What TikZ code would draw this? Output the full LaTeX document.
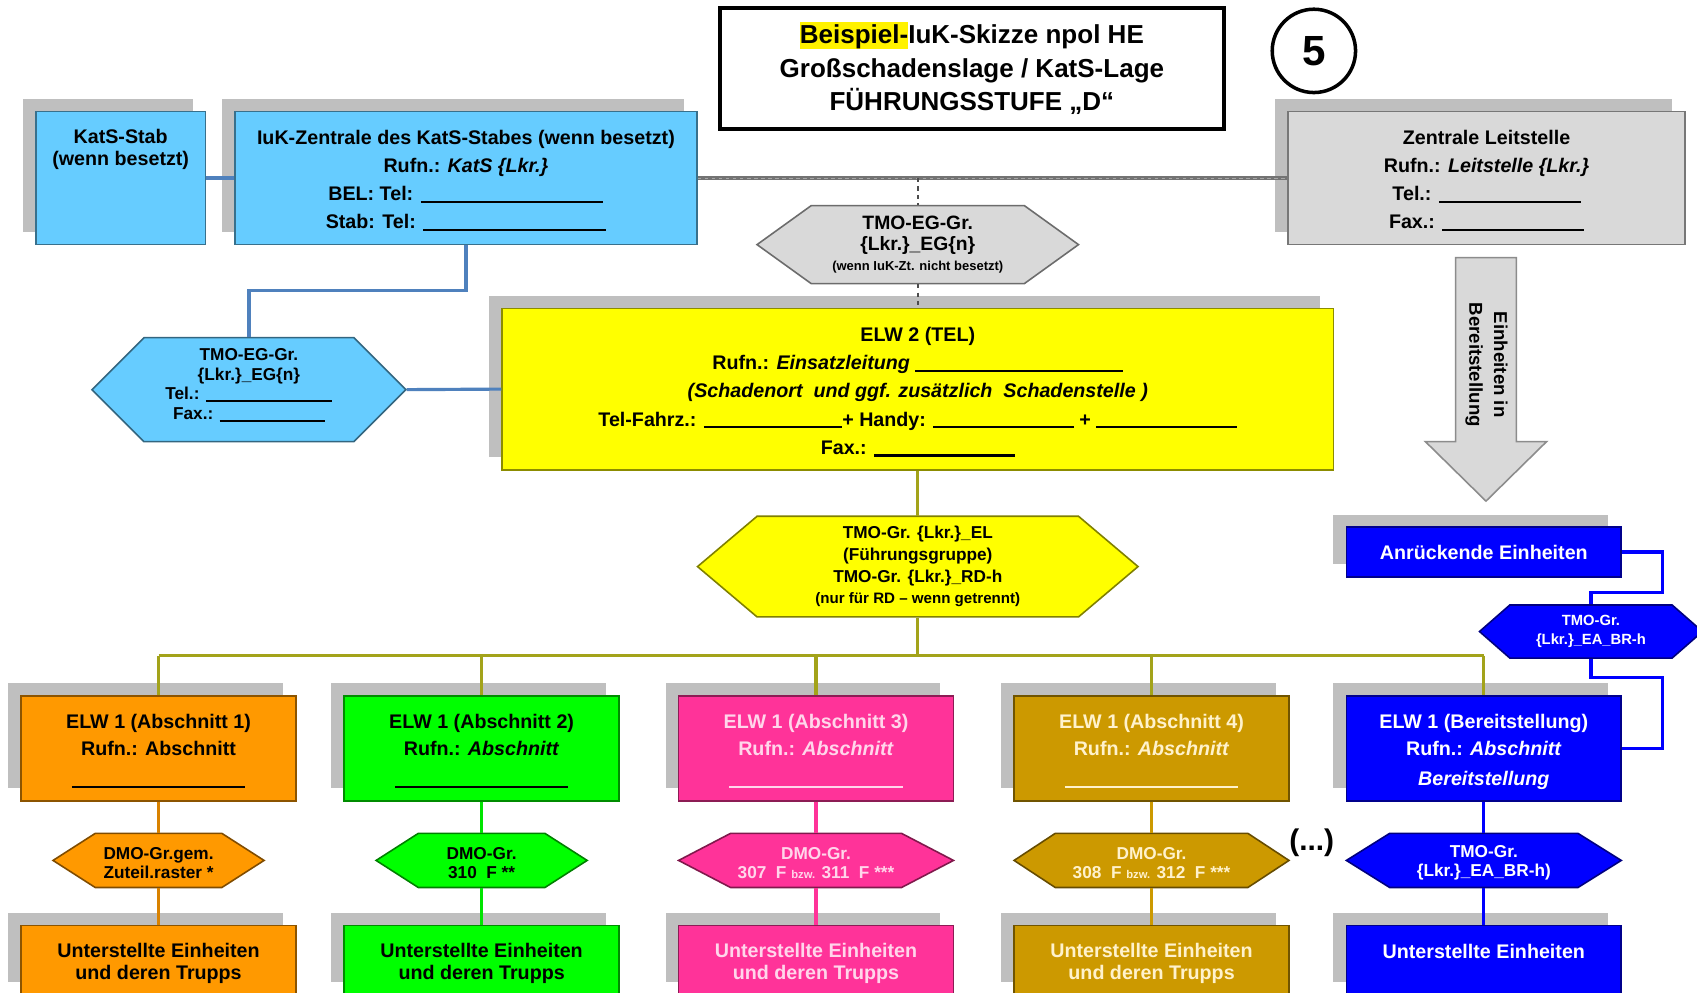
\documentclass[tikz,border=0pt]{standalone}
\usepackage{fontspec}
\setmainfont{Liberation Sans}
\usetikzlibrary{calc}

% drawing unit: one grid step
\newlength\px
\setlength\px{0.3079pt}
% blank line to be filled in by hand
\newcommand\blank[2][-0.7pt]{\rule[#1]{#2\px}{0.6pt}}
% invisible strut that sets the height of a first line
\newcommand\tstrut[1]{\rule{0pt}{#1}}

\definecolor{shadowgray}{HTML}{BFBFBF}
\definecolor{boxgray}{HTML}{D9D9D9}
\definecolor{katsblue}{HTML}{66CCFF}
\definecolor{linkblue}{HTML}{4F81BD}
\definecolor{elwyellow}{HTML}{FFFF00}
\definecolor{busolive}{HTML}{A3A31A}
\definecolor{abs1}{HTML}{FF9900}
\definecolor{abs2}{HTML}{00FF00}
\definecolor{abs3}{HTML}{FF3399}
\definecolor{abs4}{HTML}{CC9900}
\definecolor{abs5}{HTML}{0000FF}
\definecolor{txt3}{HTML}{FFD6EB}
\definecolor{txt4}{HTML}{FFF2CC}

\tikzset{
  wh/.style 2 args={minimum width=#1*0.3079pt, minimum height=#2*0.3079pt},
  sbox/.style={rectangle, fill=#1, draw=#1!55!black, line width=0.45pt,
    inner sep=0pt, align=center,
    preaction={fill=shadowgray, draw=none,
      transform canvas={xshift=-3.7pt, yshift=3.55pt}}},
  hexfill/.style={fill=#1, draw=#1!50!black, line width=0.45pt},
  hexlabel/.style={rectangle, inner sep=0pt, align=center},
  ftitle/.style={font=\bfseries\fontsize{7.4pt}{9.5pt}\selectfont},
  fbig/.style={font=\bfseries\fontsize{5.6pt}{8pt}\selectfont},
  fabs/.style={font=\bfseries\fontsize{5.6pt}{7.7pt}\selectfont},
  funit/.style={font=\bfseries\fontsize{5.6pt}{6.2pt}\selectfont},
  fhexa/.style={font=\bfseries\fontsize{4.9pt}{5.55pt}\selectfont},
  fhexg/.style={font=\bfseries\fontsize{5.5pt}{5.8pt}\selectfont},
  fhexy/.style={font=\bfseries\fontsize{4.9pt}{6.2pt}\selectfont},
  fhexd/.style={font=\bfseries\fontsize{4.9pt}{5.5pt}\selectfont},
  fhexs/.style={font=\bfseries\fontsize{4.2pt}{5.5pt}\selectfont},
  lblue/.style={draw=linkblue, line width=0.9pt},
  bline/.style={draw=abs5, line width=0.9pt},
  gline/.style={draw=black!55, line width=1.1pt},
  gdash/.style={draw=black!35, line width=0.3pt, dash pattern=on 1pt off 1pt},
  dline/.style={draw=black!70, line width=0.65pt, dash pattern=on 1.2pt off 1.2pt},
  oline/.style={draw=busolive, line width=0.9pt},
  cline/.style={draw=#1, line width=0.9pt},
}

% hexagon with pointed ends: name, x, y, width, height, slant, colour, node options, text
\newcommand\hexnode[9]{%
  \filldraw[hexfill=#7] (#2-#4/2,#3) -- (#2-#4/2+#6,#3-#5/2) -- (#2+#4/2-#6,#3-#5/2)
    -- (#2+#4/2,#3) -- (#2+#4/2-#6,#3+#5/2) -- (#2-#4/2+#6,#3+#5/2) -- cycle;
  \node[hexlabel, wh={#4}{#5}, #8] (#1) at (#2,#3) {#9};%
}

\begin{document}
\begin{tikzpicture}[x=0.3079pt, y=-0.3079pt]
\useasboundingbox (0,0) rectangle (1568,917);
\fill[white] (0,0) rectangle (1568,917);
\clip (0,0) rectangle (1568,917);

% heading
\node[draw, line width=1.1pt, wh={466}{112}, inner sep=0pt, align=center, ftitle] (title) at (898,63)
  {{\setlength\fboxsep{0pt}\colorbox{yellow}{\rule[-1.1pt]{0pt}{7.4pt}Beispiel-}}IuK-Skizze npol HE\\
   Großschadenslage / KatS-Lage\\FÜHRUNGSSTUFE „D“};
\node[circle, draw, line width=1pt, minimum size=77*0.3079pt, inner sep=0pt,
  font=\bfseries\fontsize{12pt}{12pt}\selectfont] (num) at (1214,47) {5};

% top row
\node[sbox=katsblue] (kats) at (111.5,164.5)
  {\parbox[c][123\px][t]{157\px}{\centering\bfseries\fontsize{5.6pt}{6.2pt}\selectfont
   \vspace*{5pt}KatS-Stab\\(wenn besetzt)}};
\node[sbox=katsblue, fbig, wh={427}{123}] (iuk) at (430.5,164.5)
  {\tstrut{5.6pt}IuK-Zentrale des KatS-Stabes (wenn besetzt)\\Rufn.: \textit{KatS \{Lkr.\}}\\
   BEL: Tel: \blank{169}\\Stab: Tel: \blank{169}};
\node[sbox=boxgray, fbig, wh={367}{123}] (zl) at (1373.5,164.5)
  {\tstrut{5.6pt}Zentrale Leitstelle\\Rufn.: \textit{Leitstelle \{Lkr.\}}\\Tel.: \blank{131}\\Fax.: \blank{131}};

\hexnode{tmoeg}{848}{226}{297}{72}{50}{boxgray}{fhexg}
  {TMO-EG-Gr.\\\{Lkr.\}\_EG\{n\}\\{\fontsize{3.7pt}{4pt}\selectfont(wenn IuK-Zt. nicht besetzt)}}
\hexnode{tmoegb}{230}{360}{290}{96}{48}{katsblue}{fhexa}
  {TMO-EG-Gr.\\\{Lkr.\}\_EG\{n\}\\Tel.: \blank{117}\\Fax.: \blank{97}\rule[-3.2pt]{0pt}{1pt}}

% command vehicle
\node[sbox=elwyellow, font=\bfseries\fontsize{5.6pt}{8pt}\selectfont, wh={768}{149}] (elw2) at (848,359.5)
  {\tstrut{5.7pt}ELW 2 (TEL)\\Rufn.: \textit{Einsatzleitung} \blank{192}\\
   \textit{(Schadenort\ \ und ggf. zusätzlich\ \ Schadenstelle )}\\
   Tel-Fahrz.: \blank{128}+ Handy: \blank{130} + \blank{130}\\Fax.: \blank{130}};

\hexnode{tmoel}{848}{523.5}{407}{93}{55}{elwyellow}{fhexy}
  {TMO-Gr. \{Lkr.\}\_EL\\(Führungsgruppe)\\TMO-Gr. \{Lkr.\}\_RD-h\\
   {\fontsize{4.3pt}{5pt}\selectfont(nur für RD – wenn getrennt)}}

% units on standby
\filldraw[fill=boxgray, draw=black!45, line width=0.45pt]
  (1345,238) -- (1401,238) -- (1401,408) -- (1429,408) -- (1373,463) -- (1317,408) -- (1345,408) -- cycle;
\node[rotate=-90, align=center, font=\bfseries\fontsize{5.3pt}{7pt}\selectfont] (bereit) at (1373.5,337)
  {Einheiten in\\Bereitstellung};
\node[sbox=abs5, fbig, text=white, wh={254}{46}] (anr) at (1371,510) {Anrückende Einheiten};
\hexnode{tmoea}{1470}{583.5}{206}{49}{28}{abs5}{fhexs, text=white}{TMO-Gr.\\\{Lkr.\}\_EA\_BR-h}

% sections
\node[sbox=abs1, fabs, text=black, wh={254}{97}] (e1) at (146.5,691.5)
  {\tstrut{5.8pt}ELW 1 (Abschnitt 1)\\Rufn.: Abschnitt\\\blank[-1.6pt]{160}};
\node[sbox=abs2, fabs, text=black, wh={254}{97}] (e2) at (445,691.5)
  {\tstrut{5.8pt}ELW 1 (Abschnitt 2)\\Rufn.: \textit{Abschnitt}\\\blank[-1.6pt]{160}};
\node[sbox=abs3, fabs, text=txt3, wh={254}{97}] (e3) at (754,691.5)
  {\tstrut{5.8pt}ELW 1 (Abschnitt 3)\\Rufn.: \textit{Abschnitt}\\\blank[-1.6pt]{160}};
\node[sbox=abs4, fabs, text=txt4, wh={254}{97}] (e4) at (1064,691.5)
  {\tstrut{5.8pt}ELW 1 (Abschnitt 4)\\Rufn.: \textit{Abschnitt}\\\blank[-1.6pt]{160}};
\node[sbox=abs5, fabs, text=white, wh={254}{97}] (e5) at (1371,691.5)
  {\tstrut{6pt}ELW 1 (Bereitstellung)\\Rufn.: \textit{Abschnitt}\\[0.6pt]\textit{Bereitstellung}};

\hexnode{d1}{146.5}{795}{195}{50}{39}{abs1}{fhexd, text=black}{\tstrut{4.8pt}DMO-Gr.gem.\\Zuteil.raster *}
\hexnode{d2}{445}{795}{195}{50}{39}{abs2}{fhexd, text=black}{\tstrut{4.8pt}DMO-Gr.\\310\ \ F **}
\hexnode{d3}{754}{795}{254}{50}{48}{abs3}{fhexd, text=txt3}
  {\tstrut{4.8pt}DMO-Gr.\\307\ \ F {\fontsize{3.2pt}{3.5pt}\selectfont bzw.} 311\ \ F ***}
\hexnode{d4}{1064}{795}{254}{50}{38}{abs4}{fhexd, text=txt4}
  {\tstrut{4.8pt}DMO-Gr.\\308\ \ F {\fontsize{3.2pt}{3.5pt}\selectfont bzw.} 312\ \ F ***}
\hexnode{d5}{1371}{795}{254}{50}{40}{abs5}{fhexd, text=white}{\tstrut{4.8pt}TMO-Gr.\\\{Lkr.\}\_EA\_BR-h)}
\node[font=\bfseries\fontsize{8.5pt}{9pt}\selectfont, inner sep=0pt] (more) at (1212,779) {(...)};

\node[sbox=abs1, funit, text=black, wh={254}{64}] (u1) at (146.5,887) {\tstrut{6pt}Unterstellte Einheiten\\und deren Trupps};
\node[sbox=abs2, funit, text=black, wh={254}{64}] (u2) at (445,887) {\tstrut{6pt}Unterstellte Einheiten\\und deren Trupps};
\node[sbox=abs3, funit, text=txt3, wh={254}{64}] (u3) at (754,887) {\tstrut{6pt}Unterstellte Einheiten\\und deren Trupps};
\node[sbox=abs4, funit, text=txt4, wh={254}{64}] (u4) at (1064,887) {\tstrut{6pt}Unterstellte Einheiten\\und deren Trupps};
\node[sbox=abs5, funit, text=white, wh={254}{64}] (u5) at (1371,887) {\tstrut{6.4pt}Unterstellte Einheiten\\\phantom{und deren Trupps}};

% connections
\draw[lblue] (kats.east) -- (iuk.west);
\draw[lblue] (iuk.south) -- ++(0,42) -| (tmoegb.north);
\draw[lblue] (tmoegb.east) -- (elw2.west);
\draw[gline] (iuk.east) -- (zl.west);
\draw[gdash] (iuk.east) -- (zl.west);
\draw[dline] (tmoeg.north |- iuk.east) -- (tmoeg.north);
\draw[dline] (tmoeg.south) -- (elw2.north);
\draw[oline] (elw2.south) -- (tmoel.north);
\draw[oline] (tmoel.south) -- ++(0,35) coordinate (bus);
\draw[oline] (e1.north |- bus) -- (e5.north |- bus);
\foreach \e in {e1,e2,e3,e4,e5} \draw[oline] (\e.north |- bus) -- (\e.north);
\draw[bline] (anr.east) -- ++(37,0) |- ($(tmoea.north)+(0,-11)$) -- (tmoea.north);
\draw[bline] (tmoea.south) -- ++(0,17) -| ($(e5.east)+(37,0)$) -- (e5.east);

\draw[cline=abs1!85!black] (e1.south) -- (d1.north) (d1.south) -- (u1.north);
\draw[cline=abs2!90!black] (e2.south) -- (d2.north) (d2.south) -- (u2.north);
\draw[cline=abs3] (e3.south) -- (d3.north) (d3.south) -- (u3.north);
\draw[cline=abs4] (e4.south) -- (d4.north) (d4.south) -- (u4.north);
\draw[cline=abs5] (e5.south) -- (d5.north) (d5.south) -- (u5.north);
\end{tikzpicture}
\end{document}
